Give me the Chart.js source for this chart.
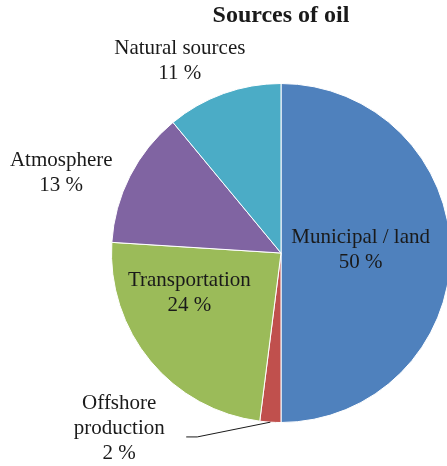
<!DOCTYPE html>
<html>
<head>
<meta charset="utf-8">
<script src="https://cdn.jsdelivr.net/npm/chart.js@4/dist/chart.umd.min.js"></script>
<style>
  html, body { margin: 0; padding: 0; background: #fff; overflow: hidden; }
  #oilChart { display: block; }
</style>
</head>
<body>
<canvas id="oilChart" width="500" height="466"></canvas>
<script>
// Sources of oil, share in percent
const sources = ['Municipal / land', 'Offshore production', 'Transportation', 'Atmosphere', 'Natural sources'];
const shares = [50, 2, 24, 13, 11];
const sliceColors = ['#4f81bd', '#c0504d', '#9bbb59', '#8064a2', '#4bacc6'];

// label text lines for each slice (name may wrap)
const labelLines = [
    ['Municipal / land'],
    ['Offshore', 'production'],
    ['Transportation'],
    ['Atmosphere'],
    ['Natural sources']
];
// label placement: [angle shift from slice middle in degrees, distance as fraction of radius]
const labelPlacement = [
    [-2, 0.47],
    [39, 1.41],
    [16, 0.59],
    [-7, 1.38],
    [-8, 1.28]
];

const FONT = '"Liberation Serif", "Times New Roman", serif';

const pieLabels = {
    id: 'pieLabels',
    afterDraw(chart) {
        const ctx = chart.ctx;
        const arcs = chart.getDatasetMeta(0).data;
        const cx = arcs[0].x;

        ctx.save();
        ctx.fillStyle = '#1a1a1a';
        ctx.textAlign = 'center';
        ctx.textBaseline = 'middle';

        // chart title
        ctx.font = 'bold 24px ' + FONT;
        ctx.fillText('Sources of oil', cx, 16);

        ctx.font = '21px ' + FONT;
        arcs.forEach((arc, i) => {
            const mid = (arc.startAngle + arc.endAngle) / 2;
            const a = mid + labelPlacement[i][0] * Math.PI / 180;
            const r = arc.outerRadius * labelPlacement[i][1];
            const x = arc.x + Math.cos(a) * r;
            const y = arc.y + Math.sin(a) * r;
            const lines = labelLines[i].concat([shares[i] + ' %']);
            const lh = 25;
            const top = y - (lines.length - 1) * lh / 2;
            lines.forEach((t, k) => ctx.fillText(t, x, top + k * lh));

            // leader line for the small slice
            if (labelPlacement[i][1] > 1 && shares[i] < 5) {
                const ex = arc.x + Math.cos(mid) * arc.outerRadius;
                const ey = arc.y + Math.sin(mid) * arc.outerRadius;
                ctx.strokeStyle = '#1a1a1a';
                ctx.lineWidth = 1;
                ctx.beginPath();
                ctx.moveTo(ex, ey);
                ctx.lineTo(x + 78, top + lh + 8);
                ctx.lineTo(x + 67, top + lh + 8);
                ctx.stroke();
            }
        });
        ctx.restore();
    }
};

new Chart(document.getElementById('oilChart').getContext('2d'), {
    type: 'pie',
    data: {
        labels: sources,
        datasets: [{
            data: shares,
            backgroundColor: sliceColors,
            borderColor: '#ffffff',
            borderWidth: 1
        }]
    },
    options: {
        responsive: false,
        animation: false,
        layout: {
            padding: { left: 111, right: 49, top: 83, bottom: 43 }
        },
        plugins: {
            legend: { display: false },
            tooltip: { enabled: false }
        }
    },
    plugins: [pieLabels]
});
</script>
</body>
</html>
